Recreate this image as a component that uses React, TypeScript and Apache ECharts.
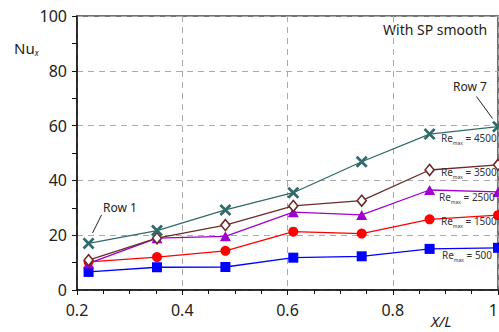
import React, { useEffect, useRef } from "react";
import * as echarts from "echarts";

const xPositions = [0.222, 0.352, 0.482, 0.611, 0.741, 0.87, 1.0];
const re500 = [6.6, 8.3, 8.4, 11.8, 12.3, 15.0, 15.4];
const re1500 = [10.3, 12.0, 14.3, 21.3, 20.6, 25.8, 27.3];
const re2500 = [9.7, 18.9, 19.6, 28.4, 27.4, 36.5, 35.8];
const re3500 = [10.9, 18.9, 23.7, 30.7, 32.6, 43.8, 45.7];
const re4500 = [17.0, 21.7, 29.2, 35.5, 46.8, 56.9, 59.6];
const reLabels = ["4500", "3500", "2500", "1500", "500"];

const FONT = "Noto Sans";
const X_SYMBOL =
  "path://M0,1.6 L1.6,0 L5,3.4 L8.4,0 L10,1.6 L6.6,5 L10,8.4 L8.4,10 L5,6.6 L1.6,10 L0,8.4 L3.4,5 Z";

function pairs(vals: number[]) {
  return vals.map((v, i) => [xPositions[i], v]);
}

export default function App() {
  const ref = useRef<HTMLDivElement>(null);
  useEffect(() => {
    document.body.style.margin = "0";
    const chart = echarts.init(ref.current!, null, { renderer: "svg" });
    const labelPos: [number, number][] = [
      [441, 140],
      [441, 174],
      [439, 199],
      [441, 223],
      [442, 257],
    ];
    const reText = (i: number) => ({
      type: "text",
      left: labelPos[i][0],
      top: labelPos[i][1] - 7,
      z: 10,
      style: {
        text: `{r|Re}{s|max}{r| = ${reLabels[i]}}`,
        rich: {
          r: { fontSize: 10, fontFamily: FONT, fill: "#333", lineHeight: 14 },
          s: { fontSize: 5, fontFamily: FONT, fill: "#333", verticalAlign: "bottom", lineHeight: 10 },
        },
      },
    });
    const lineStyleBase = { width: 1.3 };
    chart.setOption({
      animation: false,
      textStyle: { fontFamily: FONT },
      grid: {
        left: 77,
        right: 1,
        top: 16,
        bottom: 42,
        containLabel: false,
        outerBoundsMode: "none",
        show: true,
        borderColor: "#444",
        borderWidth: 1.5,
        backgroundColor: "transparent",
      },
      xAxis: {
        type: "value",
        min: 0.2,
        max: 1,
        interval: 0.2,
        axisLine: { show: true, onZero: false, lineStyle: { color: "#111", width: 1.5 } },
        axisTick: { show: true, length: 5, lineStyle: { color: "#111", width: 1 } },
        minorTick: { show: true, splitNumber: 4, length: 4, lineStyle: { color: "#111", width: 1 } },
        axisLabel: {
          fontSize: 16,
          color: "#222",
          margin: 12,
          alignMaxLabel: "right",
          formatter: (v: number) => (Math.abs(v - 1) < 1e-9 ? "1" : v.toFixed(1)),
        },
        splitLine: { show: true, lineStyle: { color: "#aaa", type: [6, 5], width: 1 } },
      },
      yAxis: {
        type: "value",
        min: 0,
        max: 100,
        interval: 20,
        axisLine: { show: true, onZero: false, lineStyle: { color: "#111", width: 1.5 } },
        axisTick: { show: true, length: 5, lineStyle: { color: "#111", width: 1 } },
        minorTick: { show: true, splitNumber: 2, length: 5, lineStyle: { color: "#111", width: 1 } },
        axisLabel: { fontSize: 16, color: "#222", margin: 10 },
        splitLine: { show: true, lineStyle: { color: "#aaa", type: [6, 5], width: 1 } },
      },
      series: [
        {
          type: "line",
          data: pairs(re500),
          symbol: "rect",
          symbolSize: 10,
          color: "#0000ff",
          lineStyle: { ...lineStyleBase, color: "#0000ff" },
          itemStyle: { color: "#0000ff" },
        },
        {
          type: "line",
          data: pairs(re1500),
          symbol: "circle",
          symbolSize: 10,
          color: "#ff0000",
          lineStyle: { ...lineStyleBase, color: "#ff0000" },
          itemStyle: { color: "#ff0000" },
        },
        {
          type: "line",
          data: pairs(re2500),
          symbol: "triangle",
          symbolSize: [11, 10],
          color: "#9f00d0",
          lineStyle: { ...lineStyleBase, color: "#9f00d0" },
          itemStyle: { color: "#9f00d0" },
        },
        {
          type: "line",
          data: pairs(re3500),
          symbol: "diamond",
          symbolSize: [9, 11],
          color: "#6b2a2a",
          lineStyle: { ...lineStyleBase, color: "#6b2a2a" },
          itemStyle: { color: "#ffffff", borderColor: "#6b2a2a", borderWidth: 1.6 },
        },
        {
          type: "line",
          data: pairs(re4500),
          symbol: X_SYMBOL,
          symbolSize: 12,
          color: "#2f6b69",
          lineStyle: { ...lineStyleBase, color: "#2f6b69" },
          itemStyle: { color: "#2f6b69" },
        },
      ],
      graphic: [
        {
          type: "text",
          left: 14,
          top: 40,
          style: {
            text: "{n|Nu}{s|x}",
            rich: {
              n: { fontSize: 15, fontFamily: FONT, fill: "#222", lineHeight: 18 },
              s: { fontSize: 8, fontFamily: FONT, fontStyle: "italic", fill: "#222", verticalAlign: "bottom", lineHeight: 12 },
            },
          },
        },
        {
          type: "text",
          left: 431,
          top: 313,
          style: { text: "X/L", fontSize: 15, fontStyle: "italic", fontFamily: FONT, fill: "#222" },
        },
        {
          type: "text",
          left: 383,
          top: 22,
          style: { text: "With SP smooth", fontSize: 14, fontFamily: FONT, fill: "#222" },
        },
        {
          type: "text",
          left: 103,
          top: 201,
          style: { text: "Row 1", fontSize: 12, fontFamily: FONT, fill: "#222" },
        },
        {
          type: "line",
          shape: { x1: 92.5, y1: 233, x2: 101.5, y2: 215 },
          style: { stroke: "#222", lineWidth: 1 },
        },
        {
          type: "text",
          left: 453,
          top: 80,
          style: { text: "Row 7", fontSize: 12, fontFamily: FONT, fill: "#222" },
        },
        {
          type: "line",
          shape: { x1: 476.5, y1: 96.5, x2: 492.5, y2: 118.5 },
          style: { stroke: "#222", lineWidth: 1 },
        },
        reText(0),
        reText(1),
        reText(2),
        reText(3),
        reText(4),
      ],
    });
    return () => chart.dispose();
  }, []);
  return (
    <div
      ref={ref}
      style={{ position: "absolute", left: 0, top: 0, width: 499, height: 332 }}
    />
  );
}
